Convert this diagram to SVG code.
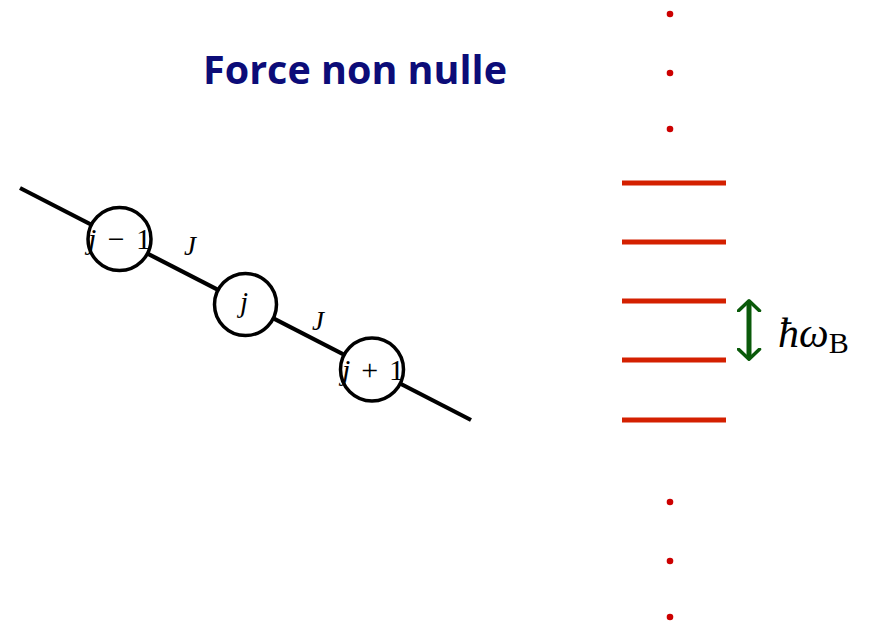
<svg xmlns="http://www.w3.org/2000/svg" width="874" height="625" viewBox="0 0 874 625">
<defs>
<style>
.title{font-family:"Open Sans","Liberation Sans",sans-serif;font-weight:bold;font-size:39px;fill:#0c0c78}
.lvl{stroke:#d42000;stroke-width:5}
.dot{fill:#cc0000}
.site{fill:#fff;stroke:#000;stroke-width:3.5}
.math{font-family:"Liberation Serif","DejaVu Serif",serif;fill:#000}
.it{font-style:italic}
.conn{stroke:#000;stroke-width:4.2}
</style>
<marker id="ah" viewBox="0 0 10 10" refX="4" refY="5" markerWidth="5" markerHeight="5" orient="auto-start-reverse" markerUnits="strokeWidth">
<path d="M0.5,0.8 L4.5,5 L0.5,9.2" fill="none" stroke="#0a5a0a" stroke-width="1.4" stroke-linecap="round" stroke-linejoin="round"/>
</marker>
</defs>
<rect width="874" height="625" fill="#fff"/>
<text class="title" x="203" y="84" textLength="304" lengthAdjust="spacingAndGlyphs">Force non nulle</text>
<g id="connectors">
<line class="conn" x1="20" y1="188" x2="471" y2="420"/>
</g>
<g id="site-jm1">
<circle class="site" cx="119.5" cy="239" r="31.5"/>
<text class="math" x="88" y="249" font-size="30" textLength="63" lengthAdjust="spacing"><tspan class="it">j</tspan> − 1</text>
</g>
<g id="site-j">
<circle class="site" cx="245.5" cy="304.5" r="31"/>
<text class="math it" x="244" y="312" font-size="29" text-anchor="middle">j</text>
</g>
<g id="site-jp1">
<circle class="site" cx="372" cy="369.5" r="31.5"/>
<text class="math" x="342" y="380" font-size="30" textLength="62" lengthAdjust="spacing"><tspan class="it">j</tspan> + 1</text>
</g>
<g id="label-J1"><text class="math it" x="190" y="255" font-size="27" text-anchor="middle">J</text></g>
<g id="label-J2"><text class="math it" x="318" y="330" font-size="27" text-anchor="middle">J</text></g>
<g id="levels">
<line class="lvl" x1="622" y1="183" x2="726" y2="183"/>
<line class="lvl" x1="622" y1="242" x2="726" y2="242"/>
<line class="lvl" x1="622" y1="301" x2="726" y2="301"/>
<line class="lvl" x1="622" y1="360" x2="726" y2="360"/>
<line class="lvl" x1="622" y1="420" x2="726" y2="420"/>
<circle class="dot" cx="670" cy="14" r="3.3"/>
<circle class="dot" cx="670" cy="73" r="3.3"/>
<circle class="dot" cx="670" cy="129" r="3.3"/>
<circle class="dot" cx="670" cy="502" r="3.3"/>
<circle class="dot" cx="670" cy="561" r="3.3"/>
<circle class="dot" cx="670" cy="617" r="3.3"/>
</g>
<g id="spacing">
<line x1="749" y1="302" x2="749" y2="358" stroke="#0a5a0a" stroke-width="5" marker-start="url(#ah)" marker-end="url(#ah)"/>
<text class="math" x="778" y="347" font-size="42"><tspan class="it">ħω</tspan><tspan font-size="30" dy="6">B</tspan></text>
</g>
</svg>
